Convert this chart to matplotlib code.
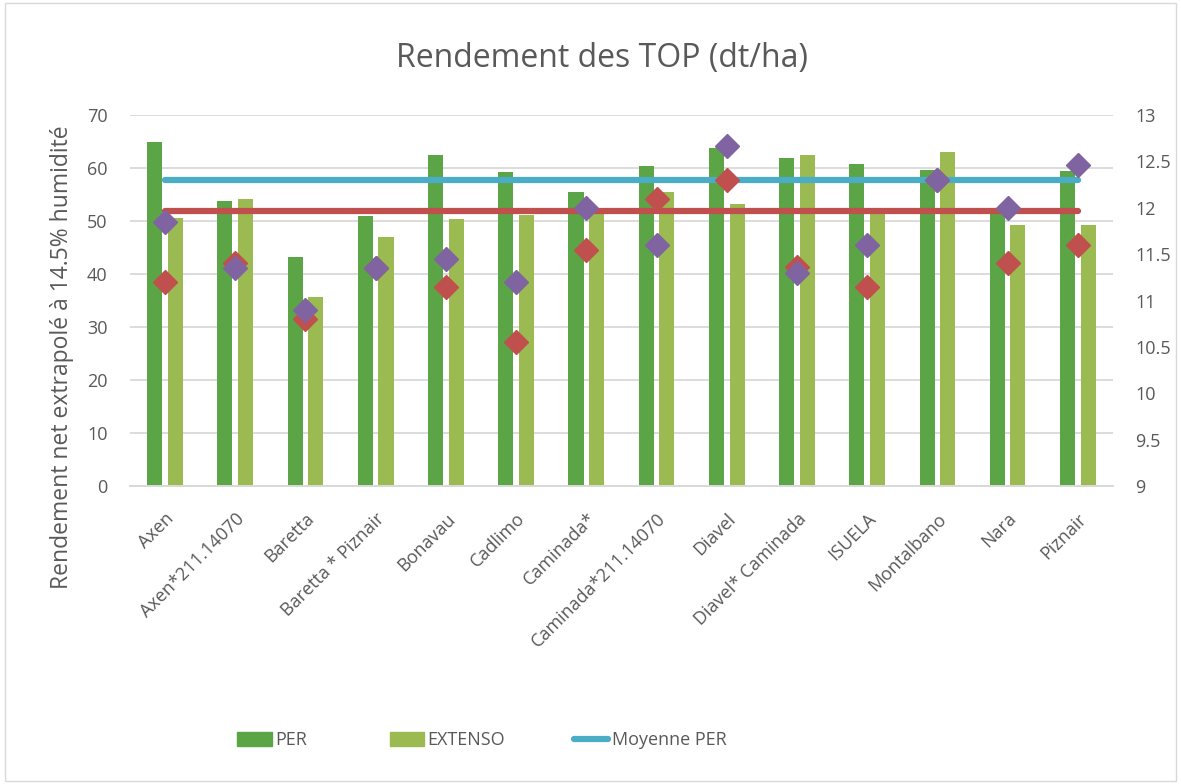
import matplotlib.pyplot as plt
import matplotlib.patches as mpatches
import numpy as np

varietes = ['Axen', 'Axen*211.14070', 'Baretta', 'Baretta * Piznair', 'Bonavau', 'Cadlimo',
            'Caminada*', 'Caminada*211.14070', 'Diavel', 'Diavel* Caminada', 'ISUELA',
            'Montalbano', 'Nara', 'Piznair']
per = [64.9, 53.8, 43.2, 50.9, 62.4, 59.2, 55.4, 60.3, 63.8, 61.8, 60.8, 59.6, 51.8, 59.4]
extenso = [50.5, 54.2, 35.7, 46.9, 50.4, 51.1, 51.8, 55.5, 53.3, 62.5, 51.8, 63.1, 49.2, 49.2]
moyenne_per = 57.7
moyenne_extenso = 51.9
# series on the right axis (diamonds)
diam_rouge = [11.2, 11.4, 10.8, 11.35, 11.15, 10.55, 11.55, 12.1, 12.3, 11.36, 11.15, 12.3, 11.4, 11.6]
diam_violet = [11.85, 11.35, 10.9, 11.35, 11.45, 11.2, 12.0, 11.6, 12.67, 11.3, 11.6, 12.3, 12.0, 12.46]

c_per = '#5BA546'
c_ext = '#9BBB52'
c_bleu = '#4BACC6'
c_rouge = '#C0504D'
c_violet = '#8064A2'
c_txt = '#595959'
c_grid = '#D9D9D9'

plt.rcParams['font.family'] = ['Open Sans', 'DejaVu Sans']

fig = plt.figure(figsize=(11.81, 7.84), dpi=100)
ax = fig.add_axes([0.110, 0.380, 0.8324, 0.4733])
ax2 = ax.twinx()

x = np.arange(len(varietes))
w = 0.214
ax.bar(x - 0.147, per, width=w, color=c_per, zorder=2)
ax.bar(x + 0.147, extenso, width=w, color=c_ext, zorder=2)
ax.plot([x[0], x[-1]], [moyenne_per] * 2, color=c_bleu, lw=4.5, solid_capstyle='round', zorder=3)
ax.plot([x[0], x[-1]], [moyenne_extenso] * 2, color=c_rouge, lw=4.5, solid_capstyle='round', zorder=3)

ax2.plot(x, diam_rouge, 'D', color=c_rouge, ms=12, zorder=4, linestyle='none')
ax2.plot(x, diam_violet, 'D', color=c_violet, ms=12, zorder=5, linestyle='none')

ax.set_xlim(-0.5, len(varietes) - 0.5)
ax.set_ylim(0, 70)
ax.set_yticks(range(0, 71, 10))
ax2.set_ylim(9, 13)
ax2.set_yticks(np.arange(9, 13.01, 0.5))
ax2.set_yticklabels(['9', '9.5', '10', '10.5', '11', '11.5', '12', '12.5', '13'])

ax.grid(axis='y', color=c_grid, lw=1.3, zorder=0)
ax.set_axisbelow(True)
for a in (ax, ax2):
    for s in ['top', 'left', 'right']:
        a.spines[s].set_visible(False)
    a.spines['bottom'].set_color(c_grid)
    a.spines['bottom'].set_linewidth(1.3)
    a.tick_params(length=0, labelsize=13, labelcolor=c_txt)
ax.tick_params(axis='y', pad=16)
ax2.tick_params(axis='y', pad=16)

ax.set_xticks(x)
ax.set_xticklabels(varietes, rotation=45, ha='right', va='top', rotation_mode='anchor', fontsize=13)
ax.tick_params(axis='x', pad=17)

fig.text(62 / 1181, 1 - 357 / 784, 'Rendement net extrapolé à 14.5% humidité', rotation=90,
         ha='center', va='center', fontsize=16.5, color=c_txt)

fig.text(0.51, 0.925, 'Rendement des TOP (dt/ha)', ha='center', va='center', fontsize=23, color=c_txt)

# legend entries placed one by one, like the spread-out Excel legend
leg_items = [(mpatches.Patch(color=c_per), 'PER', 0.201),
             (mpatches.Patch(color=c_ext), 'EXTENSO', 0.330),
             (plt.Line2D([], [], color=c_bleu, lw=4.5, solid_capstyle='round'), 'Moyenne PER', 0.486)]
for h, lab, xpos in leg_items:
    fig.legend(handles=[h], labels=[lab], loc='center left', bbox_to_anchor=(xpos, 0.056),
               frameon=False, borderpad=0, borderaxespad=0, fontsize=13,
               labelcolor=c_txt, handlelength=1.9, handleheight=0.8, handletextpad=0.2)

fig.patches.append(mpatches.Rectangle((0.004, 0.004), 0.992, 0.992, transform=fig.transFigure,
                                      fill=False, edgecolor=c_grid, lw=1))

fig.savefig('out.png', dpi=100)
